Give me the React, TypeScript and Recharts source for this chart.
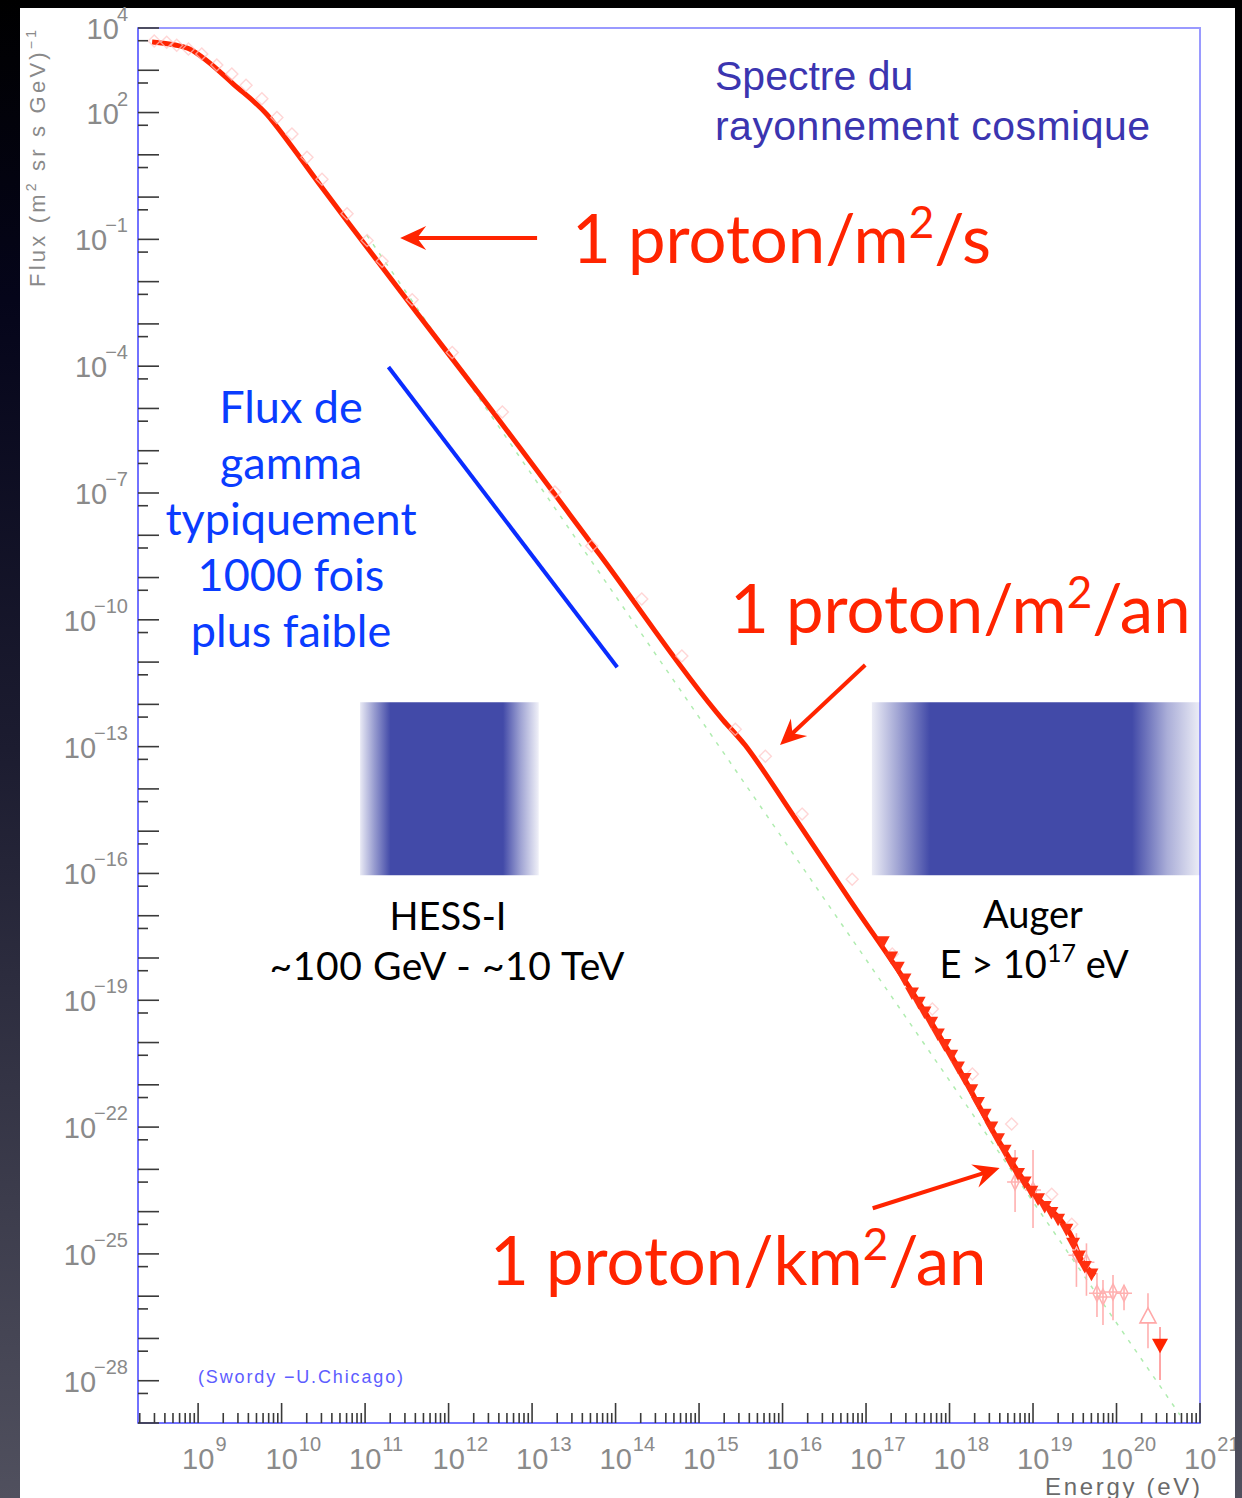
import React from 'react';
import {
  ComposedChart,
  Line,
  Scatter,
  XAxis,
  YAxis,
  ReferenceArea,
  ReferenceLine,
  ErrorBar,
} from 'recharts';

// ---------- data (log10 of energy in eV, log10 of flux) ----------
const curveLogE = [8.449, 8.725, 8.904, 9.108, 9.419, 9.826, 10.102, 10.461, 10.82, 11.659, 12.377, 13.814, 15.287, 15.551, 15.766, 16.006, 16.808, 17.563, 18.066, 18.605, 19.0, 19.359, 19.467, 19.563, 19.743];
const curveLogF = [3.669, 3.598, 3.5, 3.22, 2.68, 1.95, 1.25, 0.286, -0.66, -2.837, -4.682, -8.467, -12.371, -12.963, -13.554, -14.263, -16.629, -18.829, -20.461, -22.378, -23.561, -24.27, -24.602, -25.075, -25.501];

const openMarkLogE = [8.45, 8.6, 8.72, 8.86, 9.02, 9.2, 9.38, 9.55, 9.74, 9.92, 10.1, 10.28, 10.46, 10.76, 11.0, 11.18, 11.54, 12.02, 12.62, 13.25, 13.69, 14.29, 14.77, 15.41, 15.77, 16.21, 16.81, 17.29, 17.77, 18.25, 18.72, 19.2, 19.44];
const openMarkLogF = [3.67, 3.64, 3.57, 3.48, 3.36, 3.1, 2.89, 2.62, 2.3, 1.86, 1.47, 0.92, 0.4, -0.42, -1.05, -1.54, -2.45, -3.7, -5.11, -7.0, -8.28, -9.53, -10.88, -12.61, -13.25, -14.62, -16.16, -17.93, -19.23, -20.77, -21.95, -23.61, -24.32];

const triLogE = [17.2, 17.3, 17.38, 17.46, 17.55, 17.63, 17.7, 17.78, 17.86, 17.94, 18.02, 18.1, 18.18, 18.26, 18.34, 18.42, 18.5, 18.58, 18.66, 18.74, 18.82, 18.9, 18.98, 19.06, 19.14, 19.22, 19.3, 19.4, 19.48, 19.55, 19.62, 19.7];
const triLogF = [-17.62, -17.98, -18.22, -18.5, -18.83, -19.05, -19.28, -19.52, -19.8, -20.05, -20.3, -20.58, -20.85, -21.12, -21.42, -21.7, -22.0, -22.28, -22.55, -22.85, -23.1, -23.3, -23.52, -23.7, -23.88, -24.02, -24.18, -24.42, -24.75, -25.05, -25.3, -25.48];

const ebLogE = [18.785, 19.0, 19.52, 19.64, 19.766, 19.838, 19.958, 20.09, 20.377];
const ebLogF = [-23.3, -23.49, -25.03, -25.2, -25.93, -26.02, -25.9, -25.93, -26.49];
const ebLogLo = [-24.01, -24.39, -25.78, -25.99, -26.49, -26.68, -26.57, -26.33, -27.23];
const ebLogHi = [-22.54, -22.54, -24.51, -24.75, -25.45, -25.62, -25.5, -25.74, -25.93];
const ebKind = ['d', 'd', 'd', 'd', 'd', 'd', 'd', 'd', 't'];

const lastLogE = [20.521];
const lastLogF = [-27.16];
const lastLogLo = [-27.98];
const lastLogHi = [-26.73];

const greenLogE = [11.02, 20.76];
const greenLogF = [-0.9, -28.81];

const gammaLogE = [11.28, 14.02];
const gammaLogF = [-4.02, -11.12];

const hessLogE = [10.94, 13.08];
const augerLogE = [17.07, 21.0];
const boxLogF = [-16.04, -11.95];

// arrows: [tailLogE, tailLogF, headLogE, headLogF]
const arrowSec = [13.06, -0.968, 11.42, -0.968];
const arrowYear = [16.99, -11.07, 15.97, -12.96];
const arrowKm = [17.08, -23.92, 18.6, -22.97];

// axes
const X_DOMAIN_LOG = [8.28, 21];
const Y_DOMAIN_LOG = [-29, 4];
const X_LABEL_EXP = [9, 10, 11, 12, 13, 14, 15, 16, 17, 18, 19, 20, 21];
const Y_LABEL_EXP = [4, 2, -1, -4, -7, -10, -13, -16, -19, -22, -25, -28];
const X_MINOR_MULT = [2, 3, 4, 5, 6, 7, 8, 9];
const Y_MINOR_MULT = [5];

// ---------- build ----------
const p10 = (v: number) => Math.pow(10, v);
const toPts = (le: number[], lf: number[]) => le.map((e, i) => ({ e: p10(e), f: p10(lf[i]) }));

const curveData = toPts(curveLogE, curveLogF);
const openData = toPts(openMarkLogE, openMarkLogF);
const triData = toPts(triLogE, triLogF);
const greenData = toPts(greenLogE, greenLogF);
const gammaData = toPts(gammaLogE, gammaLogF);
const ebData = ebLogE.map((e, i) => {
  const f = p10(ebLogF[i]);
  return { e: p10(e), f, err: [f - p10(ebLogLo[i]), p10(ebLogHi[i]) - f], kind: ebKind[i] };
});
const lastData = lastLogE.map((e, i) => {
  const f = p10(lastLogF[i]);
  return { e: p10(e), f, err: [f - p10(lastLogLo[i]), p10(lastLogHi[i]) - f] };
});

const xDomain = [p10(X_DOMAIN_LOG[0]), p10(X_DOMAIN_LOG[1])];
const yDomain = [p10(Y_DOMAIN_LOG[0]), p10(Y_DOMAIN_LOG[1])];

const xTicks: number[] = [];
for (let n = Math.floor(X_DOMAIN_LOG[0]); n <= X_DOMAIN_LOG[1]; n++) {
  [1, ...X_MINOR_MULT].forEach((k) => {
    const lv = n + Math.log10(k);
    if (lv >= X_DOMAIN_LOG[0] - 1e-9 && lv <= X_DOMAIN_LOG[1] + 1e-9) xTicks.push(k * p10(n));
  });
}
const yTicks: number[] = [];
for (let n = Y_DOMAIN_LOG[0]; n <= Y_DOMAIN_LOG[1]; n++) {
  [1, ...Y_MINOR_MULT].forEach((k) => {
    const lv = n + Math.log10(k);
    if (lv >= Y_DOMAIN_LOG[0] - 1e-9 && lv <= Y_DOMAIN_LOG[1] + 1e-9) yTicks.push(k * p10(n));
  });
}

const fmtExp = (n: number) => (n < 0 ? '\u2212' + -n : '' + n);
const decadeOf = (v: number) => {
  const lg = Math.log10(v);
  const n = Math.round(lg);
  return { n, major: Math.abs(lg - n) < 1e-6 };
};

const ROOT_FONT = '"Liberation Sans", Arial, Helvetica, sans-serif';
const GILL_FONT = 'Lato, "Open Sans", sans-serif';
const TICK_GRAY = '#8a8a8a';
const RED = '#ff2400';

const YTick = (props: any) => {
  const { x, y, payload } = props;
  const { n, major } = decadeOf(payload.value);
  return (
    <g>
      <line x1={x} x2={x + (major ? 21 : 10)} y1={y} y2={y} stroke="#3a3a3a" strokeWidth={1.6} />
      {major && Y_LABEL_EXP.includes(n) && (
        <text x={x - 10} y={y + 11} textAnchor="end" fontFamily={ROOT_FONT} fontSize={29} fill={TICK_GRAY}>
          10
          <tspan dx={-2} dy={-18} fontSize={20}>
            {fmtExp(n)}
          </tspan>
        </text>
      )}
    </g>
  );
};

const XTick = (props: any) => {
  const { x, y, payload } = props;
  const { n, major } = decadeOf(payload.value);
  return (
    <g>
      <line x1={x} x2={x} y1={y} y2={y - (major ? 20 : 10)} stroke="#3a3a3a" strokeWidth={1.6} />
      {major && X_LABEL_EXP.includes(n) && (
        <text x={x - 16} y={y + 46} textAnchor="start" fontFamily={ROOT_FONT} fontSize={29} fill={TICK_GRAY}>
          10
          <tspan dx={1} dy={-18} fontSize={20}>
            {fmtExp(n)}
          </tspan>
        </text>
      )}
    </g>
  );
};

const arrowShape = (color: string) => (props: any) => {
  const { x1, y1, x2, y2 } = props;
  const ang = Math.atan2(y2 - y1, x2 - x1);
  const c = Math.cos(ang);
  const s = Math.sin(ang);
  const L = 26;
  const Wd = 12;
  const notch = 17;
  const bx = x2 - L * c;
  const by = y2 - L * s;
  const nx = -s;
  const ny = c;
  const kx = x2 - notch * c;
  const ky = y2 - notch * s;
  const pts = [
    [x2, y2],
    [bx + nx * Wd, by + ny * Wd],
    [kx, ky],
    [bx - nx * Wd, by - ny * Wd],
  ]
    .map((p) => p.join(','))
    .join(' ');
  return (
    <g>
      <line x1={x1} y1={y1} x2={kx + c} y2={ky + s} stroke={color} strokeWidth={4} />
      <polygon points={pts} fill={color} />
    </g>
  );
};

const diamond = (props: any) => {
  const { cx, cy } = props;
  if (cx == null || cy == null) return <g />;
  return (
    <path
      d={`M${cx + 2},${cy - 7} L${cx + 8},${cy - 1} L${cx + 2},${cy + 5} L${cx - 4},${cy - 1} Z`}
      fill="none"
      stroke="#ffc4c4"
      strokeWidth={1.4}
      opacity={0.7}
    />
  );
};

const ebShape = (props: any) => {
  const { cx, cy, payload } = props;
  if (cx == null || cy == null) return <g />;
  if (payload && payload.kind === 't') {
    return (
      <path d={`M${cx},${cy - 9} L${cx + 8},${cy + 6} L${cx - 8},${cy + 6} Z`} fill="#fff" stroke="#ffa8a8" strokeWidth={1.6} />
    );
  }
  return (
    <path
      d={`M${cx},${cy - 8} L${cx + 4},${cy} L${cx},${cy + 8} L${cx - 4},${cy} Z M${cx - 8},${cy} L${cx + 8},${cy}`}
      fill="none"
      stroke="#ffb0b0"
      strokeWidth={1.5}
    />
  );
};

const downTri = (size: number, color: string) => (props: any) => {
  const { cx, cy } = props;
  if (cx == null || cy == null) return <g />;
  return (
    <path
      d={`M${cx - size},${cy - size * 0.8} L${cx + size},${cy - size * 0.8} L${cx},${cy + size} Z`}
      fill={color}
    />
  );
};

const seg = (a: number[]) => [
  { x: p10(a[0]), y: p10(a[1]) },
  { x: p10(a[2]), y: p10(a[3]) },
];

export default function App() {
  return (
    <div
      style={{
        position: 'absolute',
        left: 0,
        top: 0,
        width: 1242,
        height: 1498,
        overflow: 'hidden',
        background: 'linear-gradient(180deg, #000000 0%, #05051a 20%, #1c1c30 50%, #3c3c4c 80%, #50505e 100%)',
      }}
    >
      <div style={{ position: 'absolute', left: 20, top: 8, width: 1215, height: 1490, background: '#ffffff' }} />
      <div style={{ position: 'absolute', left: 0, top: 0, width: 1235, height: 1498, overflow: 'hidden' }}>
        <ComposedChart width={1242} height={1498} margin={{ top: 28, right: 42, bottom: 0, left: 20 }}>
          <defs>
            <linearGradient id="hessGrad" x1="0" y1="0" x2="1" y2="0">
              <stop offset="0" stopColor="#424aa8" stopOpacity={0.12} />
              <stop offset="0.08" stopColor="#424aa8" stopOpacity={0.55} />
              <stop offset="0.17" stopColor="#424aa8" stopOpacity={1} />
              <stop offset="0.8" stopColor="#424aa8" stopOpacity={1} />
              <stop offset="0.9" stopColor="#424aa8" stopOpacity={0.5} />
              <stop offset="1" stopColor="#424aa8" stopOpacity={0.08} />
            </linearGradient>
            <linearGradient id="augerGrad" x1="0" y1="0" x2="1" y2="0">
              <stop offset="0" stopColor="#424aa8" stopOpacity={0.1} />
              <stop offset="0.08" stopColor="#424aa8" stopOpacity={0.5} />
              <stop offset="0.177" stopColor="#424aa8" stopOpacity={1} />
              <stop offset="0.793" stopColor="#424aa8" stopOpacity={1} />
              <stop offset="0.9" stopColor="#424aa8" stopOpacity={0.45} />
              <stop offset="1" stopColor="#424aa8" stopOpacity={0.1} />
            </linearGradient>
          </defs>
          <XAxis
            dataKey="e"
            type="number"
            scale="log"
            domain={xDomain}
            allowDataOverflow
            ticks={xTicks}
            interval={0}
            tick={<XTick />}
            tickLine={false}
            tickSize={0}
            tickMargin={0}
            axisLine={{ stroke: '#7272ff', strokeWidth: 2 }}
            height={75}
          />
          <YAxis
            dataKey="f"
            type="number"
            scale="log"
            domain={yDomain}
            allowDataOverflow
            ticks={yTicks}
            interval={0}
            tick={<YTick />}
            tickLine={false}
            tickSize={0}
            tickMargin={0}
            axisLine={{ stroke: '#7272ff', strokeWidth: 2 }}
            width={118}
          />
          <ReferenceArea
            x1={xDomain[0]}
            x2={xDomain[1]}
            y1={yDomain[0]}
            y2={yDomain[1]}
            fill="none"
            fillOpacity={0}
            stroke="#9a9aff"
            strokeWidth={2}
            ifOverflow="visible"
          />
          <ReferenceArea
            x1={p10(hessLogE[0])}
            x2={p10(hessLogE[1])}
            y1={p10(boxLogF[0])}
            y2={p10(boxLogF[1])}
            fill="url(#hessGrad)"
            fillOpacity={1}
            stroke="none"
            ifOverflow="visible"
          />
          <ReferenceArea
            x1={p10(augerLogE[0])}
            x2={p10(augerLogE[1])}
            y1={p10(boxLogF[0])}
            y2={p10(boxLogF[1])}
            fill="url(#augerGrad)"
            fillOpacity={1}
            stroke="none"
            ifOverflow="visible"
          />
          <Line
            data={greenData}
            dataKey="f"
            stroke="#b0ecb0"
            strokeWidth={1.5}
            strokeDasharray="4 7"
            dot={false}
            isAnimationActive={false}
          />
          <Scatter data={openData} shape={diamond} isAnimationActive={false} />
          <Scatter data={ebData} shape={ebShape} isAnimationActive={false}>
            <ErrorBar dataKey="err" direction="y" width={0} stroke="#ffb0b0" strokeWidth={1.6} />
          </Scatter>
          <Scatter data={triData} shape={downTri(7, '#ff3010')} isAnimationActive={false} />
          <Line
            data={curveData}
            dataKey="f"
            type="monotone"
            stroke={RED}
            strokeWidth={5}
            dot={false}
            isAnimationActive={false}
          />
          <Scatter data={lastData} shape={downTri(8, RED)} isAnimationActive={false}>
            <ErrorBar dataKey="err" direction="y" width={0} stroke="#ff9090" strokeWidth={1.6} />
          </Scatter>
          <Line
            data={gammaData}
            dataKey="f"
            stroke="#0a2cff"
            strokeWidth={4}
            dot={false}
            isAnimationActive={false}
          />
          <ReferenceLine segment={seg(arrowSec)} shape={arrowShape(RED)} ifOverflow="visible" />
          <ReferenceLine segment={seg(arrowYear)} shape={arrowShape(RED)} ifOverflow="visible" />
          <ReferenceLine segment={seg(arrowKm)} shape={arrowShape(RED)} ifOverflow="visible" />
        </ComposedChart>
      </div>
      <svg
        width={1242}
        height={1498}
        style={{ position: 'absolute', left: 0, top: 0, pointerEvents: 'none' }}
      >
        {/* Y axis title */}
        <text
          transform="translate(45,287) rotate(-90)"
          fontFamily={ROOT_FONT}
          fontSize={22}
          fill={TICK_GRAY}
          textLength={257}
          lengthAdjust="spacing"
        >
          Flux (m
          <tspan dy={-9} fontSize={14}>
            2
          </tspan>
          <tspan dy={9}> sr s GeV)</tspan>
          <tspan dy={-9} fontSize={14}>
            {'\u22121'}
          </tspan>
        </text>
        {/* X axis title */}
        <text
          x={1200}
          y={1495}
          textAnchor="end"
          fontFamily={ROOT_FONT}
          fontSize={24}
          fill="#6a6a6a"
          textLength={155}
          lengthAdjust="spacing"
        >
          Energy (eV)
        </text>

        {/* title */}
        <text x={715} y={90} fontFamily={ROOT_FONT} fontSize={41} fill="#3b35b0">
          Spectre du
        </text>
        <text x={715} y={140} fontFamily={ROOT_FONT} fontSize={41} fill="#3b35b0" textLength={435} lengthAdjust="spacing">
          rayonnement cosmique
        </text>

        {/* red annotations */}
        <text x={572} y={263} fontFamily={GILL_FONT} fontSize={67} fill={RED}>
          1 proton/m
          <tspan dy={-25} fontSize={44}>
            2
          </tspan>
          <tspan dy={25}>/s</tspan>
        </text>
        <text x={730} y={633} fontFamily={GILL_FONT} fontSize={67} fill={RED}>
          1 proton/m
          <tspan dy={-25} fontSize={44}>
            2
          </tspan>
          <tspan dy={25}>/an</tspan>
        </text>
        <text x={490} y={1285} fontFamily={GILL_FONT} fontSize={67} fill={RED}>
          1 proton/km
          <tspan dy={-25} fontSize={44}>
            2
          </tspan>
          <tspan dy={25}>/an</tspan>
        </text>

        {/* gamma annotation */}
        {['Flux de', 'gamma', 'typiquement', '1000 fois', 'plus faible'].map((t, i) => (
          <text
            key={t}
            x={291}
            y={423 + i * 56}
            textAnchor="middle"
            fontFamily={GILL_FONT}
            fontSize={45}
            fill="#0a3cff"
          >
            {t}
          </text>
        ))}

        {/* experiments */}
        <text x={448} y={930} textAnchor="middle" fontFamily={GILL_FONT} fontSize={38} fill="#000">
          HESS-I
        </text>
        <text
          x={447}
          y={980}
          textAnchor="middle"
          fontFamily={GILL_FONT}
          fontSize={39}
          fill="#000"
          textLength={355}
          lengthAdjust="spacing"
        >
          ~100 GeV - ~10 TeV
        </text>
        <text x={1033} y={928} textAnchor="middle" fontFamily={GILL_FONT} fontSize={38} fill="#000">
          Auger
        </text>
        <text x={1034} y={978} textAnchor="middle" fontFamily={GILL_FONT} fontSize={38} fill="#000">
          E &gt; 10
          <tspan dy={-16} fontSize={25}>
            17
          </tspan>
          <tspan dy={16}> eV</tspan>
        </text>

        {/* credit */}
        <text
          x={198}
          y={1383}
          fontFamily={ROOT_FONT}
          fontSize={18}
          fill="#5d5dff"
          textLength={205}
          lengthAdjust="spacing"
        >
          (Swordy {'\u2212'}U.Chicago)
        </text>
      </svg>
    </div>
  );
}
